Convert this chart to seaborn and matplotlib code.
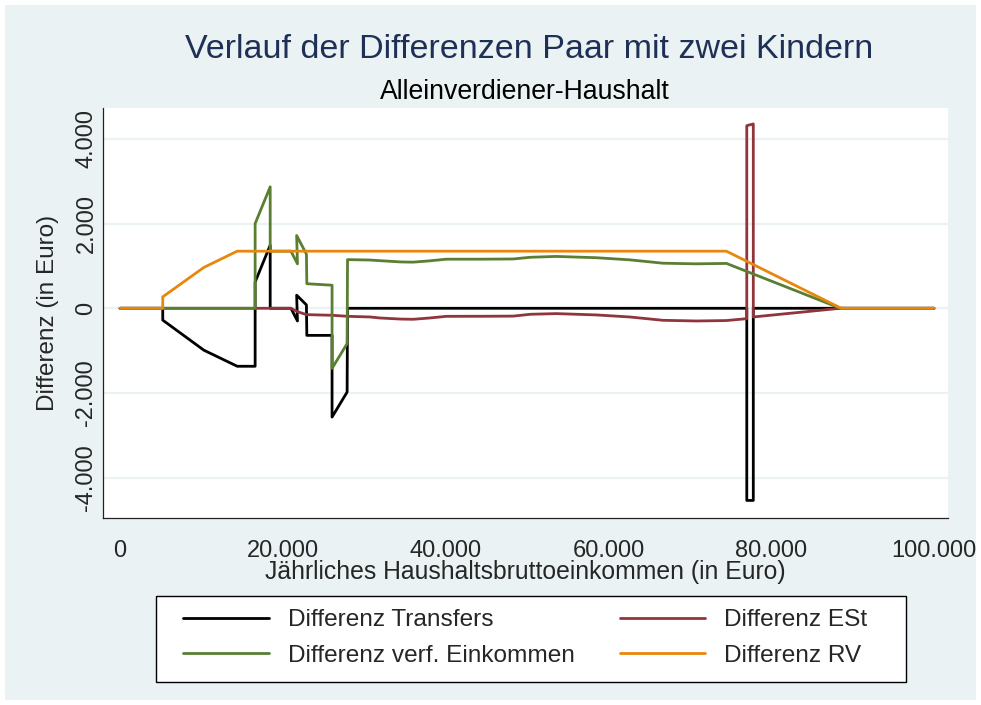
import matplotlib
matplotlib.use("Agg")
import matplotlib.pyplot as plt
import seaborn as sns
from matplotlib.lines import Line2D
from matplotlib.patches import Rectangle

# ---------------- data ----------------
transfers_x = [0, 5250, 5250, 10300, 14400, 16600, 16600, 18450, 18450, 21000, 21800, 21700,
               22900, 22950, 26050, 26050, 27900, 27950, 77000, 77000, 77800, 77800, 100000]
transfers_y = [0, 0, -280, -990, -1370, -1370, 620, 1490, 0, 0, -300, 310,
               80, -640, -640, -2570, -1980, 0, 0, -4540, -4540, 0, 0]

est_x = [0, 21000, 21800, 22900, 26000, 28000, 30700, 31900, 34500, 36000, 38000, 40100,
         44200, 48300, 50400, 53600, 58500, 62600, 66700, 70800, 74500, 77000, 77000,
         77800, 77800, 88500, 100000]
est_y = [0, 0, -80, -150, -165, -190, -205, -229, -255, -260, -230, -190,
         -189, -185, -142, -126, -157, -205, -284, -300, -290, -245, 4315,
         4355, -205, 0, 0]

verf_x = [0, 16600, 16600, 18450, 18450, 21000, 21800, 21700, 22900, 22950, 26050, 26050,
          27900, 27950, 30700, 31900, 34500, 36000, 38000, 40100, 44200, 48300, 50400,
          53600, 58500, 62600, 66700, 70800, 74500, 88500, 100000]
verf_y = [0, 0, 2000, 2870, 1349, 1349, 1050, 1720, 1280, 580, 545, -1420,
          -835, 1150, 1140, 1125, 1095, 1090, 1120, 1160, 1160, 1165, 1205,
          1225, 1195, 1145, 1065, 1050, 1060, 0, 0]

rv_x = [0, 5250, 5250, 10300, 14400, 74500, 88600, 100000]
rv_y = [0, 0, 270, 965, 1349, 1349, 0, 0]

series_labels = ["Differenz Transfers", "Differenz ESt",
                 "Differenz verf. Einkommen", "Differenz RV"]
series_colors = ["#000000", "#90353B", "#5A7F32", "#E8870E"]

x_ticks = [0, 20000, 40000, 60000, 80000, 100000]
x_ticklabels = ["0", "20.000", "40.000", "60.000", "80.000", "100.000"]
y_ticks = [-4000, -2000, 0, 2000, 4000]
y_ticklabels = ["-4.000", "-2.000", "0", "2.000", "4.000"]

title = "Verlauf der Differenzen Paar mit zwei Kindern"
subtitle = "Alleinverdiener-Haushalt"
xlabel = "Jährliches Haushaltsbruttoeinkommen (in Euro)"
ylabel = "Differenz (in Euro)"

# ---------------- style ----------------
sns.set_theme(style="white")
plt.rcParams["font.family"] = ["Liberation Sans", "DejaVu Sans"]

BG = "#EAF2F3"
W, H = 981, 705
fig = plt.figure(figsize=(W / 100, H / 100), dpi=100)
fig.patch.set_facecolor("white")
fig.add_artist(Rectangle((5 / W, 5 / H), 1 - 10 / W, 1 - 10 / H,
                         transform=fig.transFigure, facecolor=BG,
                         edgecolor="none", zorder=0))

L, R, T, B = 103, 948, 108, 518
ax = fig.add_axes([L / W, 1 - B / H, (R - L) / W, (B - T) / H])
ax.set_facecolor("white")

series = [(transfers_x, transfers_y), (est_x, est_y), (verf_x, verf_y), (rv_x, rv_y)]
for (xs, ys), col in zip(series, series_colors):
    sns.lineplot(x=xs, y=ys, sort=False, estimator=None, color=col,
                 linewidth=2.0, ax=ax, legend=False)

ax.set_xlim(-2090, 101720)
ax.set_ylim(-4955, 4732)

ax.set_xticks(x_ticks)
ax.set_xticklabels(x_ticklabels, fontsize=17)
ax.set_yticks(y_ticks)
ax.set_yticklabels(y_ticklabels, fontsize=17, rotation=90, va="center")
ax.tick_params(axis="x", direction="out", length=5, width=0.9, color="#222222", pad=11)
ax.tick_params(axis="y", direction="out", length=5, width=0.9, color="#222222", pad=-1)
ax.yaxis.grid(True, color=BG, linewidth=1.6)
ax.xaxis.grid(False)
ax.set_axisbelow(True)

for s in ["top", "right"]:
    ax.spines[s].set_visible(False)
for s in ["left", "bottom"]:
    ax.spines[s].set_color("#222222")
    ax.spines[s].set_linewidth(0.9)

ax.set_xlabel(xlabel, fontsize=17.8, va="center")
ax.xaxis.set_label_coords(0.5, (B - 572) / (B - T))
ax.set_ylabel(ylabel, fontsize=17.5, va="center")
ax.yaxis.set_label_coords((48 - L) / (R - L), 0.5)

fig.text(529 / W, 1 - 50 / H, title, fontsize=24.5, color="#1F3057",
         ha="center", va="center")
fig.text(525 / W, 1 - 92 / H, subtitle, fontsize=19.2, color="black",
         ha="center", va="center")

# legend frame drawn explicitly, entries placed inside (row-wise order)
fig.add_artist(Rectangle((156 / W, 1 - 682 / H), 750 / W, 86 / H,
                         transform=fig.transFigure, facecolor="white",
                         edgecolor="black", linewidth=1.0, zorder=2))
handles = [Line2D([], [], color=c, linewidth=2.0) for c in series_colors]
order = [0, 2, 1, 3]
leg = fig.legend([handles[i] for i in order], [series_labels[i] for i in order],
                 ncol=2, loc="center left", bbox_to_anchor=(183 / W, 1 - 638 / H),
                 fontsize=17.6, frameon=False, borderpad=0, borderaxespad=0,
                 handlelength=3.5, handletextpad=0.78, columnspacing=1.85,
                 labelspacing=0.54)
leg.set_zorder(3)

fig.savefig("out.png", dpi=100, facecolor=fig.get_facecolor())
